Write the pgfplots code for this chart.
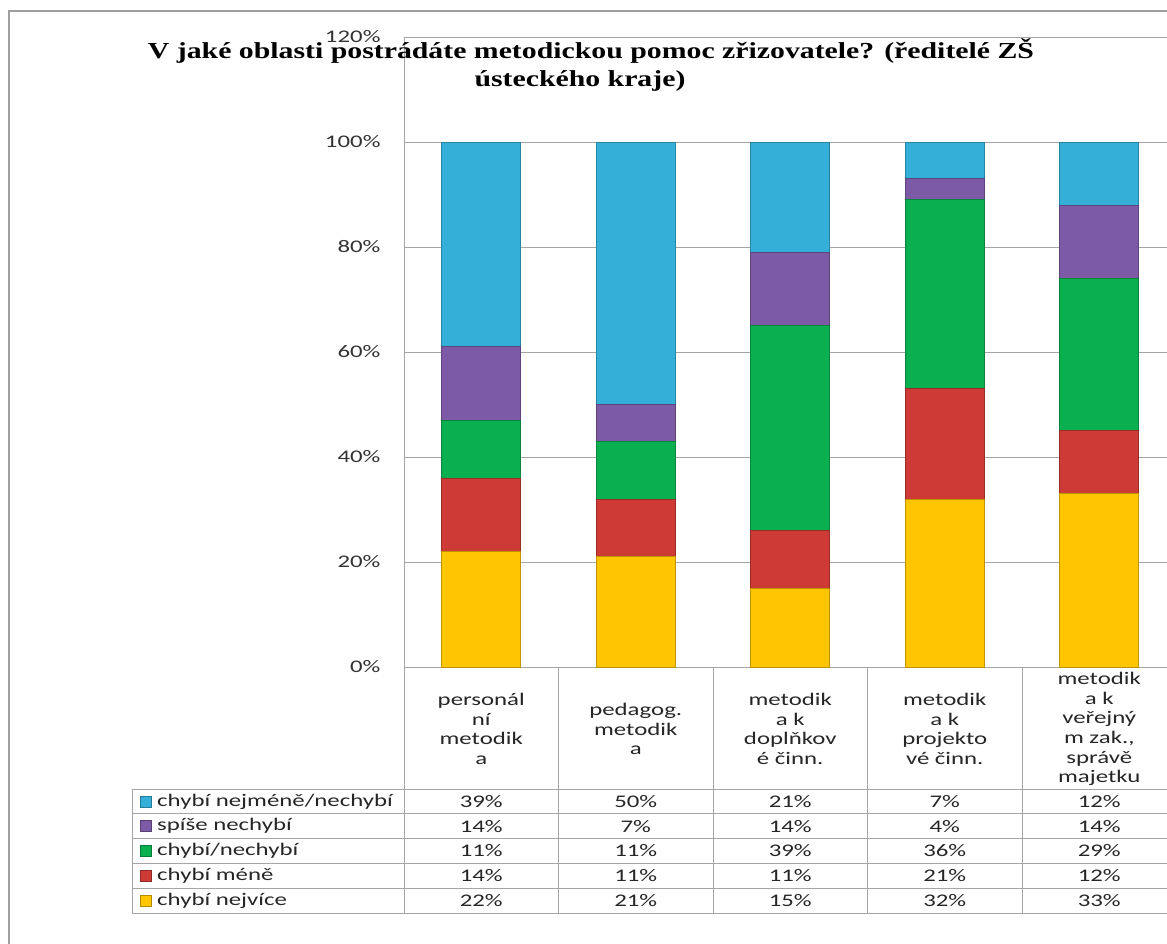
\documentclass[border=0pt]{standalone}
\usepackage{fontspec}
\usepackage{pgfplots}
\usepackage{pgfplotstable}
\pgfplotsset{compat=1.18}
\setmainfont{Carlito}[FakeStretch=1.4]
\newfontfamily\calfont{Carlito}[FakeStretch=1.4]
\newfontfamily\titlefont{Liberation Serif}[FakeStretch=1.3]

\definecolor{cYel}{RGB}{255,198,0}
\definecolor{cRed}{RGB}{206,58,54}
\definecolor{cGrn}{RGB}{10,176,80}
\definecolor{cPur}{RGB}{125,90,166}
\definecolor{cCyn}{RGB}{52,176,216}
\definecolor{gridc}{RGB}{165,165,165}

% values in percent, one row per category
\pgfplotstableread{
x nejvice mene neutral spise nejmene
0 22 14 11 14 39
1 21 11 11 7  50
2 15 11 39 14 21
3 32 21 36 4  7
4 33 12 29 14 12
}\data

\newcommand\cf{\calfont\fontsize{17.8}{19.8}\selectfont}

\begin{document}
\begin{tikzpicture}[x=1bp,y=1bp]
\useasboundingbox (0,0) rectangle (1167,-944);
\clip (0,0) rectangle (1167,-944);

\begin{axis}[
    at={(404bp,-667bp)}, anchor=south west,
    scale only axis, width=763bp, height=630bp,
    ybar stacked, bar width=79bp,
    xmin=-0.5, xmax=4.4385, ymin=0, ymax=120,
    xtick=\empty,
    ytick={0,20,...,120},
    yticklabel={\pgfmathprintnumber{\tick}\%},
    /pgf/number format/assume math mode=true,
    yticklabel style={font=\cf, text=black!80, xshift=-20bp},
    major tick length=0pt,
    axis lines*=left,
    axis line style={gridc, line width=1bp},
    ymajorgrids, grid style={gridc, line width=1bp},
    clip=false,
]
\addplot[fill=cYel, draw=cYel!75!black, line width=0.6bp] table[x=x,y=nejvice]{\data};
\addplot[fill=cRed, draw=cRed!75!black, line width=0.6bp] table[x=x,y=mene]{\data};
\addplot[fill=cGrn, draw=cGrn!75!black, line width=0.6bp] table[x=x,y=neutral]{\data};
\addplot[fill=cPur, draw=cPur!75!black, line width=0.6bp] table[x=x,y=spise]{\data};
\addplot[fill=cCyn, draw=cCyn!75!black, line width=0.6bp] table[x=x,y=nejmene]{\data};
\end{axis}

% title
\node[font=\titlefont\bfseries\fontsize{23}{28}\selectfont, anchor=base] at (591,-58)
  {V jaké oblasti postrádáte metodickou pomoc zřizovatele? (ředitelé ZŠ};
\node[font=\titlefont\bfseries\fontsize{23}{28}\selectfont, anchor=base] at (580,-86)
  {ústeckého kraje)};

% outer frame
\draw[gray!75, line width=1.5bp] (9,-1000) -- (9,-11) -- (1200,-11);

% data table grid
\foreach \k in {0,...,5}
  \draw[gridc, line width=1bp] (132,-789-24.8*\k) -- (1200,-789-24.8*\k);
\draw[gridc, line width=1bp] (132,-789) -- (132,-913);
\foreach \k in {0,...,5}
  \draw[gridc, line width=1bp] (404+154.5*\k,-667) -- (404+154.5*\k,-913);

% category labels
\foreach \lab [count=\k from 0] in {
    {personál\\ní\\metodik\\a},
    {pedagog.\\metodik\\a},
    {metodik\\a k\\doplňkov\\é činn.},
    {metodik\\a k\\projekto\\vé činn.},
    {metodik\\a k\\veřejný\\m zak.,\\správě\\majetku}}
  \node[font=\cf, align=center, text=black!85] at (481.25+154.5*\k,-729) {\lab};

% table rows with legend keys
\foreach \col/\lab/\clr [count=\r from 0] in {
    nejmene/{chybí nejméně/nechybí}/cCyn,
    spise/{spíše nechybí}/cPur,
    neutral/{chybí/nechybí}/cGrn,
    mene/{chybí méně}/cRed,
    nejvice/{chybí nejvíce}/cYel}{
  \pgfmathsetmacro\yc{-789-24.8*\r-12.4}
  \fill[\clr, draw=\clr!70!black, line width=0.5bp] (140,\yc-5.5) rectangle (151,\yc+5.5);
  \node[font=\cf, anchor=west, inner sep=0pt, text=black!85] at (157,\yc) {\lab};
  \foreach \i in {0,...,4}{
    \pgfplotstablegetelem{\i}{\col}\of\data
    \node[font=\cf, text=black!85] at (481.25+154.5*\i,\yc) {\pgfplotsretval\%};
  }
}
\end{tikzpicture}
\end{document}
